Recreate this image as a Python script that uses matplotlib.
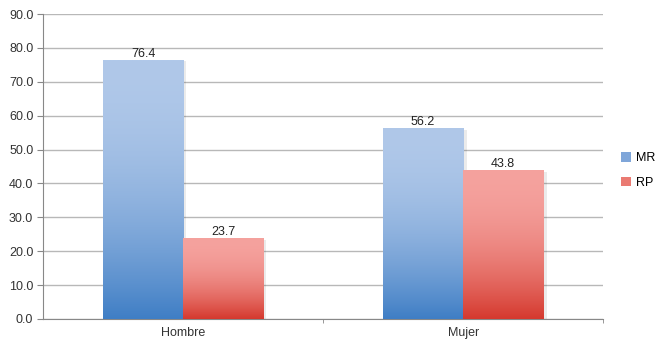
import matplotlib.pyplot as plt
import matplotlib.colors as mcolors
from matplotlib.patches import Patch
import numpy as np

categories = ["Hombre", "Mujer"]
series = ["MR", "RP"]
mr_values = [76.4, 56.2]
rp_values = [23.7, 43.8]

light = {"MR": "#b0c8e9", "RP": "#f5a29e"}
dark = {"MR": "#3f7ec5", "RP": "#d5392e"}

plt.rcParams["font.family"] = ["Liberation Sans", "DejaVu Sans"]
plt.rcParams["font.size"] = 9

fig = plt.figure(figsize=(6.59, 3.43), dpi=100)
ax = fig.add_axes([0.0653, 0.07, 0.85, 0.889])

x = np.arange(len(categories))
width = 0.2857


def gradient_bar(ax, xc, h, name):
    c0 = np.array(mcolors.to_rgb(dark[name]))
    c1 = np.array(mcolors.to_rgb(light[name]))
    t = np.linspace(0, 1, 200)[:, None]
    f = (1 - t) ** 2
    img = (c1 * (1 - f) + c0 * f)[:, None, :]
    # soft shadow
    ax.add_patch(plt.Rectangle((xc - width / 2 + 0.012, 0), width, h - 0.4,
                               facecolor="#000000", alpha=0.08, lw=0, zorder=2))
    ax.imshow(img, extent=[xc - width / 2, xc + width / 2, 0, h], origin="lower",
              aspect="auto", zorder=3)
    ax.text(xc, h + 0.1, f"{h:.1f}", ha="center", va="bottom", color="#222222", zorder=4)


for i in range(len(categories)):
    gradient_bar(ax, x[i] - width / 2, mr_values[i], "MR")
    gradient_bar(ax, x[i] + width / 2, rp_values[i], "RP")

ax.set_xlim(-0.5, 1.5)
ax.set_ylim(0, 90)
ax.set_yticks(np.arange(0, 91, 10))
ax.set_yticklabels([f"{v:.1f}" for v in np.arange(0, 91, 10)], color="#333333")
ax.set_xticks(x)
ax.set_xticklabels(categories, color="#333333")
ax.set_xticks([0.5, 1.5], minor=True)
ax.tick_params(axis="x", which="major", length=0, pad=6)
ax.tick_params(axis="x", which="minor", length=3, color="#888888")
ax.tick_params(axis="y", length=4, color="#888888", pad=3)

ax.grid(axis="y", color="#b8b8b8", linewidth=1)
ax.set_axisbelow(True)
for s in ["top", "right"]:
    ax.spines[s].set_visible(False)
for s in ["left", "bottom"]:
    ax.spines[s].set_color("#888888")

handles = [Patch(facecolor="#7fa6d9", edgecolor="none"),
           Patch(facecolor="#ea7a72", edgecolor="none")]
fig.legend(handles, series, loc="center left", bbox_to_anchor=(0.925, 0.503),
           frameon=False, handlelength=0.8, handleheight=0.8, handletextpad=0.4,
           labelspacing=1.0)

fig.savefig("out.png", dpi=100)
